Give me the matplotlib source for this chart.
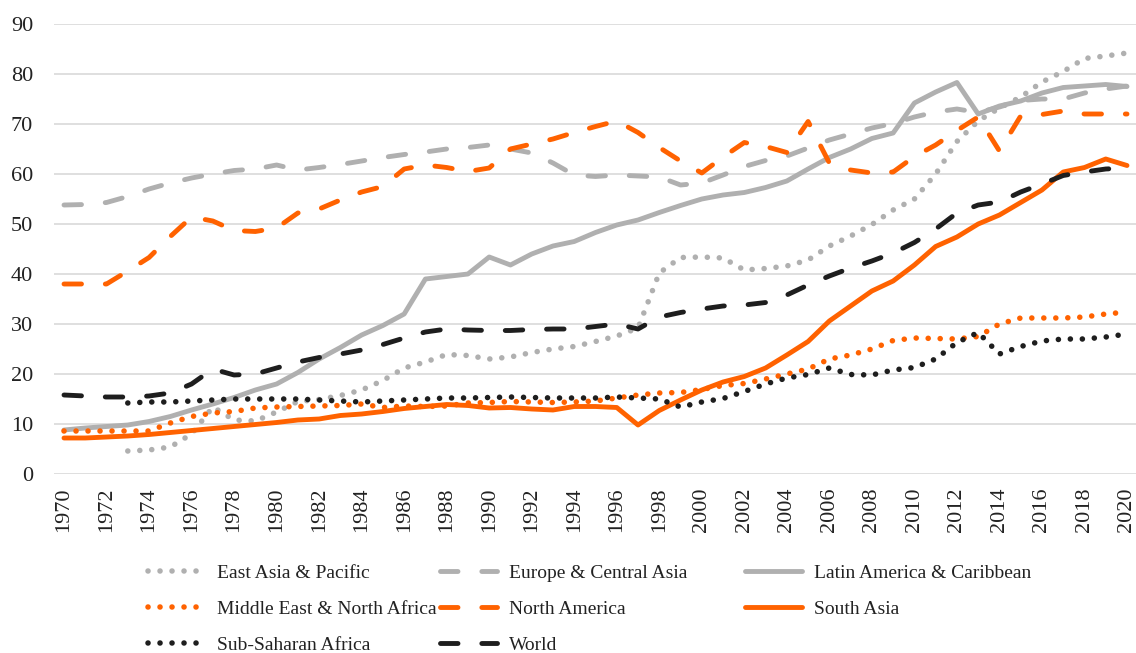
import numpy as np
import matplotlib
matplotlib.use("Agg")
import matplotlib.pyplot as plt

plt.rcParams['font.family'] = ['Liberation Serif', 'DejaVu Serif']

years = list(range(1970, 2021))
nan = np.nan

east_asia_pacific = [nan, nan, nan, 4.6, 4.8, 5.4, 8.0, 13.4, 10.8, 10.6,
                     12.4, 14.5, 14.9, 15.7, 16.8, 18.7, 21.2, 22.4, 23.9, 23.7,
                     23.0, 23.4, 24.3, 25.0, 25.5, 26.5, 27.6, 29.2, 40.2, 43.3,
                     43.4, 43.2, 40.8, 41.1, 41.6, 42.8, 45.6, 47.6, 49.9, 52.8,
                     55.0, 60.0, 66.5, 70.6, 73.2, 75.4, 78.4, 80.5, 83.1, 83.6,
                     84.2]
europe_central_asia = [53.8, 53.9, 54.3, 55.5, 57.0, 58.2, 59.2, 60.0, 60.7, 61.0,
                       61.8, 60.8, 61.3, 61.9, 62.6, 63.3, 63.9, 64.4, 65.0, 65.3,
                       65.8, 65.0, 64.2, 62.2, 59.8, 59.5, 59.8, 59.6, 59.4, 57.8,
                       58.2, 59.8, 61.5, 62.7, 63.6, 65.2, 66.8, 68.0, 69.2, 70.1,
                       71.4, 72.4, 73.0, 72.3, 73.4, 74.7, 75.0, 75.0, 76.2, 77.0,
                       77.6]
latin_america_caribbean = [8.8, 9.2, 9.5, 9.8, 10.5, 11.5, 12.8, 14.0, 15.3, 16.8,
                           18.0, 20.3, 23.0, 25.3, 27.8, 29.7, 32.0, 39.0, 39.5, 40.0,
                           43.4, 41.8, 44.0, 45.6, 46.5, 48.3, 49.8, 50.8, 52.3, 53.7,
                           55.0, 55.8, 56.3, 57.3, 58.6, 61.0, 63.3, 65.0, 67.1, 68.2,
                           74.2, 76.4, 78.3, 72.0, 73.6, 74.6, 76.2, 77.3, 77.6, 77.9,
                           77.5]
middle_east_north_africa = [8.6, 8.6, 8.6, 8.6, 8.6, 10.2, 11.5, 12.2, 12.5, 13.2,
                            13.4, 13.5, 13.6, 13.7, 14.0, 13.3, 13.6, 13.5, 13.6, 14.2,
                            14.3, 14.5, 14.4, 14.3, 14.4, 14.6, 15.2, 15.8, 16.2, 16.3,
                            16.9, 17.7, 18.1, 19.0, 20.0, 21.0, 23.0, 23.8, 25.0, 26.7,
                            27.2, 27.1, 27.0, 27.5, 30.0, 31.2, 31.2, 31.2, 31.4, 32.0,
                            32.4]
north_america = [38.0, 38.0, 38.0, 40.6, 43.3, 47.5, 51.4, 50.6, 48.7, 48.5,
                 49.2, 52.2, 53.0, 54.8, 56.4, 57.5, 61.0, 61.8, 61.3, 60.5,
                 61.2, 65.0, 66.0, 67.0, 68.3, 69.5, 70.6, 68.3, 65.3, 62.6,
                 60.2, 63.4, 66.3, 65.5, 64.3, 70.5, 62.2, 60.8, 60.2, 60.4,
                 63.5, 65.8, 68.7, 71.4, 64.6, 71.6, 71.9, 72.6, 72.0, 72.0,
                 72.0]
south_asia = [7.2, 7.2, 7.4, 7.6, 7.9, 8.3, 8.7, 9.1, 9.5, 9.9,
              10.3, 10.8, 11.0, 11.7, 12.0, 12.5, 13.1, 13.5, 13.9, 13.7,
              13.2, 13.3, 13.0, 12.8, 13.5, 13.5, 13.3, 9.8, 12.7, 14.8,
              16.8, 18.4, 19.5, 21.2, 23.8, 26.5, 30.6, 33.6, 36.6, 38.6,
              41.8, 45.5, 47.4, 50.0, 51.8, 54.3, 56.8, 60.4, 61.3, 63.0,
              61.7]
sub_saharan_africa = [nan, nan, nan, 14.2, 14.4, 14.4, 14.6, 14.8, 15.0, 15.0,
                      15.0, 15.0, 14.8, 14.6, 14.4, 14.6, 14.8, 15.0, 15.2, 15.2,
                      15.3, 15.4, 15.3, 15.2, 15.2, 15.2, 15.4, 15.2, 15.0, 13.4,
                      14.4, 15.1, 16.5, 18.0, 19.2, 19.9, 21.2, 19.9, 19.8, 20.8,
                      21.3, 23.0, 26.3, 28.3, 24.0, 25.5, 26.6, 27.0, 27.0, 27.4,
                      28.0]
world = [15.8, 15.6, 15.4, 15.4, 15.6, 16.2, 18.0, 21.0, 19.8, 20.0,
         21.2, 22.4, 23.3, 24.0, 24.8, 25.9, 27.2, 28.4, 29.0, 28.8,
         28.7, 28.7, 28.9, 29.0, 29.0, 29.5, 30.0, 29.0, 31.4, 32.3,
         33.0, 33.6, 33.8, 34.3, 35.8, 37.8, 39.6, 41.2, 42.6, 44.2,
         46.3, 49.0, 52.2, 53.8, 54.4, 56.4, 58.0, 59.7, 60.4, 61.0,
         61.2]

labels = ["East Asia & Pacific", "Europe & Central Asia", "Latin America & Caribbean",
          "Middle East & North Africa", "North America", "South Asia",
          "Sub-Saharan Africa", "World"]
series = [east_asia_pacific, europe_central_asia, latin_america_caribbean,
          middle_east_north_africa, north_america, south_asia,
          sub_saharan_africa, world]

GRAY = "#b0b0b0"
ORANGE = "#ff6200"
BLACK = "#1e1e1e"
colors = [GRAY, GRAY, GRAY, ORANGE, ORANGE, ORANGE, BLACK, BLACK]
kinds = ["dot", "dash", "solid", "dot", "dash", "solid", "dot", "dash"]

W, H = 1136, 653
fig = plt.figure(figsize=(W / 100, H / 100), dpi=100)
ax = fig.add_axes([54 / W, (H - 474) / H, (W - 54) / W, 450 / H])

LW = 3.5
DOT_LW = 4.0
handles = []
for vals, lab, col, kind in zip(series, labels, colors, kinds):
    kw = dict(color=col, solid_joinstyle='round', solid_capstyle='round',
              dash_capstyle='round', dash_joinstyle='round', clip_on=False)
    if kind == "solid":
        ln, = ax.plot(years, vals, lw=LW, linestyle='-', label=lab, **kw)
    elif kind == "dash":
        ln, = ax.plot(years, vals, lw=LW, linestyle=(0, (3.6, 4.9)), label=lab, **kw)
    else:
        ln, = ax.plot(years, vals, lw=DOT_LW, linestyle=(0, (0.01, 2.15)), label=lab, **kw)
    handles.append(ln)

ppy = 1063 / 50
ax.set_xlim(1970 - 10 / ppy, 2020 + 9 / ppy)
ax.set_ylim(0, 90)
ax.set_yticks(range(0, 91, 10))
ax.set_xticks(range(1970, 2021, 2))
ax.set_xticklabels([str(y) for y in range(1970, 2021, 2)], rotation=90)
ax.tick_params(axis='both', length=0, labelsize=16, colors="#222222")
ax.tick_params(axis='y', pad=15)
ax.tick_params(axis='x', pad=10)
ax.grid(axis='y', color="#d9d9d9", lw=1.2)
ax.set_axisbelow(True)
for s in ax.spines.values():
    s.set_visible(False)

col_x = [148 / W, 440 / W, 745 / W]
top_y = (H - 564) / H
for c in range(3):
    idx = list(range(c, 8, 3))
    leg = fig.legend([handles[i] for i in idx], [labels[i] for i in idx],
                     loc='upper left', bbox_to_anchor=(col_x[c], top_y),
                     frameon=False, fontsize=14, borderpad=0, borderaxespad=0,
                     handlelength=2.93, handletextpad=0.62, labelspacing=0.95)
    for t in leg.get_texts():
        t.set_color("#222222")

fig.savefig("out.png", dpi=100)
